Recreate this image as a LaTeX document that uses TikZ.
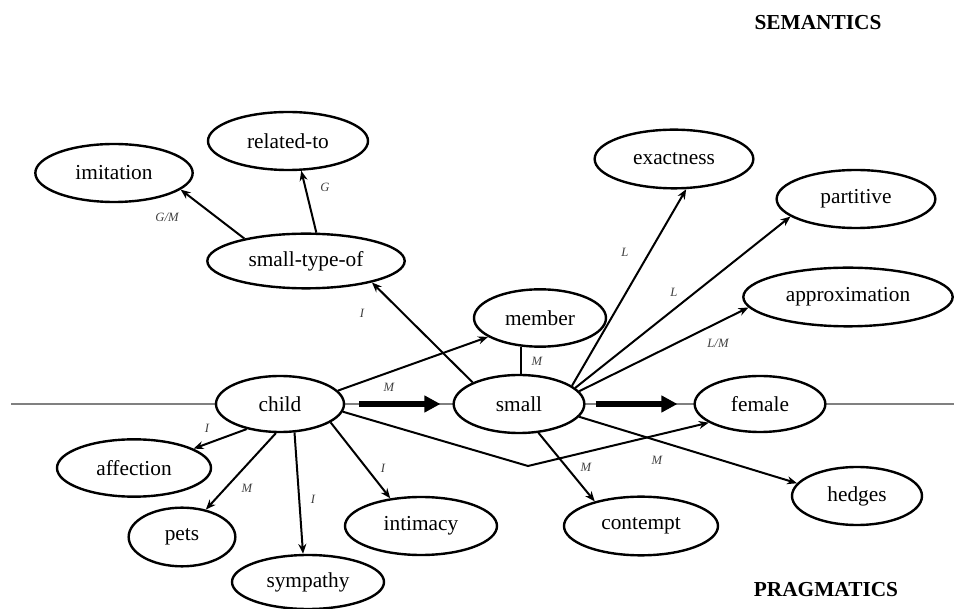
\documentclass[tikz,border=0pt]{standalone}
\usepackage{fontspec}
\setmainfont{Liberation Serif}
\usetikzlibrary{shapes.geometric, arrows.meta}

\begin{document}
\begin{tikzpicture}[x=0.75pt, y=-0.75pt,
    concept/.style={ellipse, draw, line width=1.8pt, fill=white, inner sep=0pt,
      minimum width=#1, minimum height=43.5pt, font=\fontsize{16}{18}\selectfont},
    concept/.default=118pt,
    link/.style={line width=1.5pt},
    rel/.style={link, -{Stealth[length=7.5pt,width=6pt]}},
    heavy/.style={line width=4pt, -{Triangle[length=12pt,width=12pt]}},
    lbl/.style={font=\fontsize{9.5}{11}\selectfont\itshape, text=black!75},
    heading/.style={font=\fontsize{16}{18}\selectfont\bfseries}]
    \useasboundingbox (0,0) rectangle (954,609);

    % semantics / pragmatics border
    \coordinate (axisL) at (11,404);
    \coordinate (axisR) at (954,404);
    \draw[gray, line width=0.8pt] (axisL) -- (axisR);

    \node[heading] (sem) at (818,23) {SEMANTICS};
    \node[heading] (prag) at (826,590) {PRAGMATICS};

    % concepts
    \node[concept] (imitation) at (114,173) {imitation};
    \node[concept=120pt] (related) at (288,141) {related-to};
    \node[concept=148pt, minimum height=41pt] (stype) at (306,261) {small-type-of};
    \node[concept=99pt, minimum height=43pt] (member) at (540,318) {member};
    \node[concept=98pt] (small) at (519,404) {small};
    \node[concept=96pt, minimum height=42pt] (child) at (280,404) {child};
    \node[concept=98pt, minimum height=42pt] (female) at (760,404) {female};
    \node[concept=119pt, minimum height=44pt] (exactness) at (674,159) {exactness};
    \node[concept=119pt] (partitive) at (856,199) {partitive};
    \node[concept=157pt, minimum height=44pt] (approximation) at (848,297) {approximation};
    \node[concept=115.5pt, minimum height=43pt] (affection) at (134,468) {affection};
    \node[concept=80pt, minimum height=44pt] (pets) at (182,537) {pets};
    \node[concept=114pt, minimum height=40.5pt] (sympathy) at (308,582) {sympathy};
    \node[concept=114pt] (intimacy) at (421,526) {intimacy};
    \node[concept=115.5pt, minimum height=44pt] (contempt) at (641,526) {contempt};
    \node[concept=97.5pt] (hedges) at (857,496) {hedges};

    \coordinate (bend) at (528,466);

    % shifts of meaning
    \draw[heavy, shorten <=10.5pt, shorten >=9pt] (child) -- (small);
    \draw[heavy, shorten <=7.5pt, shorten >=12pt] (small) -- (female);

    % relations
    \draw[rel] (stype.160) -- (imitation.-14);
    \draw[rel] (stype.70) -- (related.-66);
    \draw[rel] (small.155) -- (stype.-18);
    \draw[rel] (child.13) -- (member.200);
    \draw[link] (member.-123) -- (member.-123 |- small.north);
    \draw[rel] (small.19) -- (exactness.-68);
    \draw[rel] (small.16) -- (partitive.195);
    \draw[rel] (small.12) -- (approximation.186);
    \draw[rel] (small.-56) -- (contempt.152);
    \draw[rel] (small.-12) -- (hedges.168);
    \draw[rel] (child.-7) -- (bend) -- (female.200);
    \draw[rel] (child.217) -- (affection.18);
    \draw[rel] (child.262) -- (pets.49);
    \draw[rel] (child.297) -- (sympathy.100);
    \draw[rel] (child.-20) -- (intimacy.138);

    % labels
    \node[lbl] (lGM) at (167,217) {G/M};
    \node[lbl] (lG) at (325,187) {G};
    \node[lbl] (lIs) at (362,313) {I};
    \node[lbl] (lMm) at (389,387) {M};
    \node[lbl] (lMs) at (537,361) {M};
    \node[lbl] (lLe) at (625,252) {L};
    \node[lbl] (lLp) at (674,292) {L};
    \node[lbl] (lLM) at (718,343) {L/M};
    \node[lbl] (lIa) at (207,428) {I};
    \node[lbl] (lMp) at (247,488) {M};
    \node[lbl] (lIy) at (313,499) {I};
    \node[lbl] (lIi) at (383,468) {I};
    \node[lbl] (lMc) at (586,467) {M};
    \node[lbl] (lMh) at (657,460) {M};
  \end{tikzpicture}
\end{document}
